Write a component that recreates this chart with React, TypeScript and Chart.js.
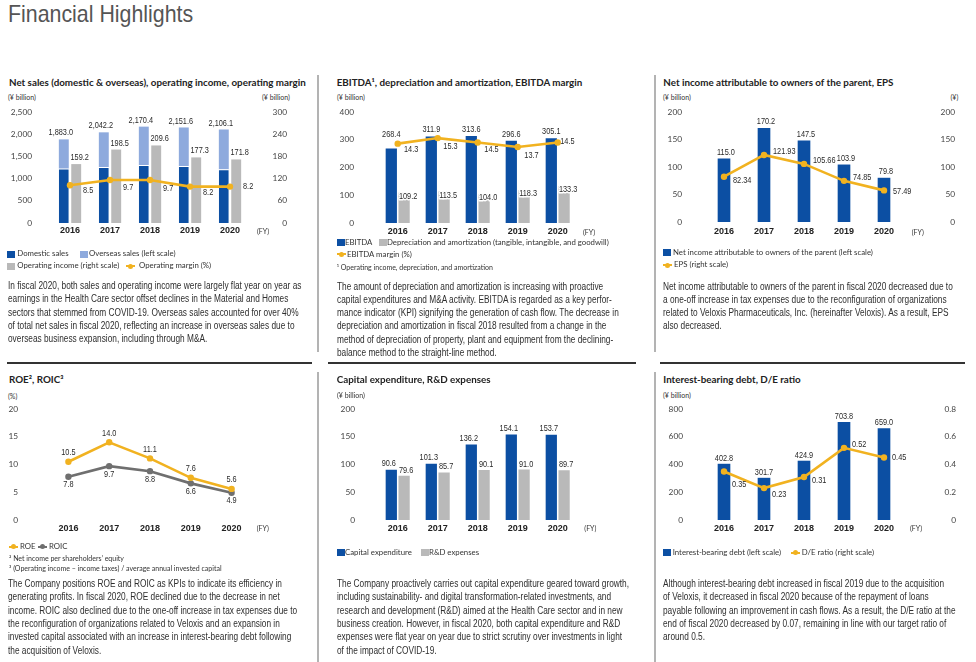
import React, { useEffect, useRef } from 'react';
import { Chart, registerables } from 'chart.js';

Chart.register(...registerables);

// ---------------- data ----------------
const years = ['2016', '2017', '2018', '2019', '2020'];

const netSalesTotal = [1883.0, 2042.2, 2170.4, 2151.6, 2106.1];
const domesticSales = [1225, 1261, 1306, 1284, 1209];
const operatingIncome = [159.2, 198.5, 209.6, 177.3, 171.8];
const operatingMargin = [8.5, 9.7, 9.7, 8.2, 8.2];

const ebitda = [268.4, 311.9, 313.6, 296.6, 305.1];
const depreciation = [109.2, 113.5, 104.0, 118.3, 133.3];
const ebitdaMargin = [14.3, 15.3, 14.5, 13.7, 14.5];

const netIncome = [115.0, 170.2, 147.5, 103.9, 79.8];
const eps = [82.34, 121.93, 105.66, 74.85, 57.49];

const roe = [10.5, 14.0, 11.1, 7.6, 5.6];
const roic = [7.8, 9.7, 8.8, 6.6, 4.9];

const capex = [90.6, 101.3, 136.2, 154.1, 153.7];
const rnd = [79.6, 85.7, 90.1, 91.0, 89.7];

const debt = [402.8, 301.7, 424.9, 703.8, 659.0];
const deRatio = [0.35, 0.23, 0.31, 0.52, 0.45];

// overseas = total - domestic (both)
const overseasSales = netSalesTotal.map((t, i) => Math.round((t - domesticSales[i]) * 10) / 10);

// ---------------- style ----------------
const SANS = 'Lato, "Open Sans", sans-serif';
const LIB = '"Liberation Sans", Arial, sans-serif';
const BLUE = '#0c4fa3';
const LIGHT = '#8eaadd';
const GRAY = '#b9b9b9';
const ORANGE = '#f1b220';
const DGRAY = '#6f6f6f';

const f1 = (v: number) => v.toFixed(1);
const f2 = (v: number) => v.toFixed(2);
const fComma = (v: number) => v.toLocaleString('en-US', { minimumFractionDigits: 1, maximumFractionDigits: 1 });
const intComma = (v: number) => v.toLocaleString('en-US');

const valueLabels = {
  id: 'valueLabels',
  afterDatasetsDraw(chart: any) {
    const { ctx } = chart;
    chart.data.datasets.forEach((ds: any, i: number) => {
      const cfg = ds.valueLabel;
      if (!cfg) return;
      const meta = chart.getDatasetMeta(i);
      meta.data.forEach((el: any, j: number) => {
        const raw = cfg.values ? cfg.values[j] : ds.data[j];
        const text = cfg.format(raw);
        const dx = Array.isArray(cfg.dx) ? cfg.dx[j] : cfg.dx || 0;
        const dy = Array.isArray(cfg.dy) ? cfg.dy[j] : cfg.dy || 0;
        let y = el.y + dy;
        if (cfg.avoid !== undefined) {
          const o = chart.getDatasetMeta(cfg.avoid).data[j];
          y = Math.min(y, o.y + cfg.avoidDy);
        }
        const x = el.x + dx;
        ctx.save();
        ctx.translate(x, y);
        ctx.scale(0.8, 1);
        ctx.font = `9.2px ${LIB}`;
        ctx.textAlign = cfg.align || 'center';
        ctx.textBaseline = 'middle';
        if (cfg.halo) {
          ctx.lineWidth = 3;
          ctx.strokeStyle = '#fff';
          ctx.lineJoin = 'round';
          ctx.strokeText(text, 0, 0);
        }
        ctx.fillStyle = '#2a2a2a';
        ctx.fillText(text, 0, 0);
        ctx.restore();
      });
    });
  },
};

const noGrid = { display: false, drawTicks: false };
const noBorder = { display: false };

function xAxis(h: number, pad: number, stacked = false) {
  return {
    type: 'category',
    offset: true,
    stacked,
    grid: noGrid,
    border: noBorder,
    ticks: {
      padding: pad,
      autoSkip: false,
      maxRotation: 0,
      color: '#222',
      font: { family: LIB, size: 9, weight: 'bold' },
    },
    afterFit: (s: any) => {
      s.height = h;
      s.paddingLeft = 0;
      s.paddingRight = 0;
    },
  };
}

function yAxis(pos: string, w: number, pad: number, max: number, step: number, fmt: any, stacked = false) {
  return {
    position: pos,
    min: 0,
    max,
    stacked,
    grid: noGrid,
    border: noBorder,
    ticks: {
      stepSize: step,
      padding: pad,
      crossAlign: pos === 'right' ? 'far' : 'near',
      color: '#444',
      font: { family: SANS, size: 8.3 },
      callback: fmt,
    },
    afterFit: (s: any) => {
      s.width = w;
      s.paddingTop = 0;
      s.paddingBottom = 0;
    },
  };
}

function hidden(max: number) {
  return { display: false, min: 0, max };
}

function lineDs(label: string, data: number[], color: string, axis: string, valueLabel: any) {
  return {
    type: 'line',
    label,
    data,
    yAxisID: axis,
    borderColor: color,
    backgroundColor: color,
    borderWidth: 2.6,
    pointRadius: 3.2,
    pointBorderWidth: 0,
    pointBackgroundColor: color,
    tension: 0,
    order: 0,
    valueLabel,
  };
}

function baseOptions(padTop: number, padRight: number, scales: any, bar?: any) {
  return {
    animation: false,
    responsive: false,
    devicePixelRatio: 1,
    layout: { autoPadding: false, padding: { top: padTop, right: padRight, left: 0, bottom: 0 } },
    plugins: { legend: { display: false }, tooltip: { enabled: false } },
    datasets: bar ? { bar } : {},
    scales,
  };
}

// ---------------- chart configs ----------------
const cfgSales = () => ({
  type: 'bar',
  data: {
    labels: years,
    datasets: [
      {
        label: 'Domestic sales',
        data: domesticSales,
        backgroundColor: BLUE,
        borderColor: '#ffffff',
        borderWidth: { top: 1, left: 0, right: 0, bottom: 0 },
        borderSkipped: false,
        stack: 'sales',
        yAxisID: 'y',
        order: 1,
      },
      {
        label: 'Overseas sales (left scale)',
        data: overseasSales,
        backgroundColor: LIGHT,
        stack: 'sales',
        yAxisID: 'y',
        order: 1,
        valueLabel: { values: netSalesTotal, format: fComma, dx: -3, dy: -6.5 },
      },
      {
        label: 'Operating income (right scale)',
        data: operatingIncome,
        backgroundColor: GRAY,
        stack: 'oi',
        yAxisID: 'y1',
        order: 1,
        valueLabel: { format: f1, dx: 3.5, dy: -6.5 },
      },
      lineDs('Operating margin (%)', operatingMargin, ORANGE, 'y2', {
        format: f1,
        align: 'left',
        dx: 13,
        dy: [5, 8, 8.7, 5.4, -0.3],
      }),
    ],
  },
  options: baseOptions(
    12,
    33,
    {
      x: xAxis(17, 2.6, true),
      y: yAxis('left', 50, 18, 2500, 500, intComma, true),
      y1: yAxis('right', 37, 3, 300, 60, intComma, true),
      y2: hidden(25),
    },
    { categoryPercentage: 0.62, barPercentage: 0.8 }
  ),
  plugins: [valueLabels],
});

const cfgEbitda = () => ({
  type: 'bar',
  data: {
    labels: years,
    datasets: [
      {
        label: 'EBITDA',
        data: ebitda,
        backgroundColor: BLUE,
        order: 1,
        valueLabel: { format: f1, dx: 0, dy: -6.5, avoid: 2, avoidDy: -9 },
      },
      {
        label: 'Depreciation and amortization',
        data: depreciation,
        backgroundColor: GRAY,
        order: 1,
        valueLabel: { format: f1, dx: 4, dy: 3.5, halo: true },
      },
      lineDs('EBITDA margin (%)', ebitdaMargin, ORANGE, 'y2', {
        format: f1,
        align: 'left',
        dx: [6.3, 5.6, 6.6, 6.6, 2.5],
        dy: [6, 8.3, 7.4, 8, -1],
      }),
    ],
  },
  options: baseOptions(
    12,
    67.3,
    {
      x: xAxis(17, 3.3),
      y: yAxis('left', 52.7, 23.7, 400, 100, intComma),
      y2: hidden(20),
    },
    { categoryPercentage: 0.64, barPercentage: 0.88 }
  ),
  plugins: [valueLabels],
});

const cfgNetIncome = () => ({
  type: 'bar',
  data: {
    labels: years,
    datasets: [
      {
        label: 'Net income attributable to owners of the parent (left scale)',
        data: netIncome,
        backgroundColor: BLUE,
        barThickness: 12,
        yAxisID: 'y',
        order: 1,
        valueLabel: { format: f1, dx: 2, dy: -6.5 },
      },
      lineDs('EPS (right scale)', eps, ORANGE, 'y1', {
        format: f2,
        align: 'left',
        dx: 9,
        dy: [3.6, -3.6, -3.2, -3.8, 0.6],
      }),
    ],
  },
  options: baseOptions(12, 21, {
    x: xAxis(18, 4.3),
    y: yAxis('left', 54, 22, 200, 50, intComma),
    y1: yAxis('right', 51, 3, 200, 50, intComma),
  }),
  plugins: [valueLabels],
});

const cfgRoe = () => ({
  type: 'line',
  data: {
    labels: years,
    datasets: [
      lineDs('ROE', roe, ORANGE, 'y', { format: f1, dx: 0, dy: -9 }),
      lineDs('ROIC', roic, DGRAY, 'y', { format: f1, dx: 0, dy: 8 }),
    ],
  },
  options: baseOptions(11, 68, {
    x: xAxis(18, 2.9),
    y: yAxis('left', 48, 30, 20, 5, intComma),
  }),
  plugins: [valueLabels],
});

const cfgCapex = () => ({
  type: 'bar',
  data: {
    labels: years,
    datasets: [
      {
        label: 'Capital expenditure',
        data: capex,
        backgroundColor: BLUE,
        valueLabel: { format: f1, dx: -2.5, dy: -6 },
      },
      {
        label: 'R&D expenses',
        data: rnd,
        backgroundColor: GRAY,
        valueLabel: { format: f1, dx: 2, dy: -5.5 },
      },
    ],
  },
  options: baseOptions(
    11,
    67.3,
    {
      x: xAxis(18, 2.9),
      y: yAxis('left', 52.7, 22.7, 200, 50, intComma),
    },
    { categoryPercentage: 0.64, barPercentage: 0.88 }
  ),
  plugins: [valueLabels],
});

const cfgDebt = () => ({
  type: 'bar',
  data: {
    labels: years,
    datasets: [
      {
        label: 'Interest-bearing debt (left scale)',
        data: debt,
        backgroundColor: BLUE,
        barThickness: 12,
        yAxisID: 'y',
        order: 1,
        valueLabel: { format: f1, dx: 0, dy: -6 },
      },
      lineDs('D/E ratio (right scale)', deRatio, ORANGE, 'y1', {
        format: f2,
        align: 'left',
        dx: 8,
        dy: [13, 6, 3, -3, 0],
      }),
    ],
  },
  options: baseOptions(11, 20, {
    x: xAxis(18, 2.9),
    y: yAxis('left', 54, 21, 800, 200, intComma),
    y1: yAxis('right', 52, 3, 0.8, 0.2, (v: number) => (v === 0 ? '0' : Number(v).toFixed(1))),
  }),
  plugins: [valueLabels],
});

// ---------------- components ----------------
function ChartCanvas({ x, y, w, h, make }: any) {
  const ref = useRef<HTMLCanvasElement | null>(null);
  useEffect(() => {
    if (!ref.current) return;
    const chart = new Chart(ref.current, make() as any);
    return () => chart.destroy();
  }, []);
  return <canvas ref={ref} width={w} height={h} style={{ position: 'absolute', left: x, top: y, width: w, height: h }} />;
}

function Txt({ x, y, s, w = 400, f = SANS, c = '#333', k, children }: any) {
  return (
    <div
      style={{
        position: 'absolute',
        left: x,
        top: y - s * 0.6,
        fontSize: s,
        lineHeight: `${s * 1.2}px`,
        fontWeight: w,
        fontFamily: f,
        color: c,
        whiteSpace: 'nowrap',
        transform: k ? `scaleX(${k})` : undefined,
        transformOrigin: '0 50%',
      }}
    >
      {children}
    </div>
  );
}

function Sq({ x, y, c }: any) {
  return <div style={{ position: 'absolute', left: x, top: y - 3.5, width: 8, height: 7, background: c }} />;
}

function LineMark({ x, y, c }: any) {
  return (
    <div style={{ position: 'absolute', left: x, top: y - 3, width: 9, height: 6 }}>
      <div style={{ position: 'absolute', left: 0, top: 2, width: 9, height: 2, background: c }} />
      <div style={{ position: 'absolute', left: 2, top: 0.5, width: 5, height: 5, borderRadius: 3, background: c }} />
    </div>
  );
}

function Para({ x, y, lines }: any) {
  return (
    <>
      {lines.map((l: string, i: number) => (
        <Txt key={i} x={x} y={y + i * 13.3} s={10} f={LIB} c="#2e2e2e" k={0.83}>
          {l}
        </Txt>
      ))}
    </>
  );
}

const TITLE_S = 9.8;
const LEG_S = 7.8;
const UNIT_S = 7;

const p1 = [
  'In fiscal 2020, both sales and operating income were largely flat year on year as',
  'earnings in the Health Care sector offset declines in the Material and Homes',
  'sectors that stemmed from COVID-19. Overseas sales accounted for over 40%',
  'of total net sales in fiscal 2020, reflecting an increase in overseas sales due to',
  'overseas business expansion, including through M&A.',
];
const p2 = [
  'The amount of depreciation and amortization is increasing with proactive',
  'capital expenditures and M&A activity. EBITDA is regarded as a key perfor-',
  'mance indicator (KPI) signifying the generation of cash flow. The decrease in',
  'depreciation and amortization in fiscal 2018 resulted from a change in the',
  'method of depreciation of property, plant and equipment from the declining-',
  'balance method to the straight-line method.',
];
const p3 = [
  'Net income attributable to owners of the parent in fiscal 2020 decreased due to',
  'a one-off increase in tax expenses due to the reconfiguration of organizations',
  'related to Veloxis Pharmaceuticals, Inc. (hereinafter Veloxis). As a result, EPS',
  'also decreased.',
];
const p4 = [
  'The Company positions ROE and ROIC as KPIs to indicate its efficiency in',
  'generating profits. In fiscal 2020, ROE declined due to the decrease in net',
  'income. ROIC also declined due to the one-off increase in tax expenses due to',
  'the reconfiguration of organizations related to Veloxis and an expansion in',
  'invested capital associated with an increase in interest-bearing debt following',
  'the acquisition of Veloxis.',
];
const p5 = [
  'The Company proactively carries out capital expenditure geared toward growth,',
  'including sustainability- and digital transformation-related investments, and',
  'research and development (R&D) aimed at the Health Care sector and in new',
  'business creation. However, in fiscal 2020, both capital expenditure and R&D',
  'expenses were flat year on year due to strict scrutiny over investments in light',
  'of the impact of COVID-19.',
];
const p6 = [
  'Although interest-bearing debt increased in fiscal 2019 due to the acquisition',
  'of Veloxis, it decreased in fiscal 2020 because of the repayment of loans',
  'payable following an improvement in cash flows. As a result, the D/E ratio at the',
  'end of fiscal 2020 decreased by 0.07, remaining in line with our target ratio of',
  'around 0.5.',
];

export default function App() {
  return (
    <div
      style={{
        position: 'fixed',
        left: 0,
        top: 0,
        width: 976,
        height: 662,
        background: '#fff',
        overflow: 'hidden',
        fontFamily: SANS,
      }}
    >
      <Txt x={8} y={14.5} s={24} f={LIB} c="#555" k={0.89}>
        Financial Highlights
      </Txt>

      {/* separators */}
      <div style={{ position: 'absolute', left: 317, top: 75, width: 2, height: 277, background: '#b3b3b3' }} />
      <div style={{ position: 'absolute', left: 654, top: 75, width: 2, height: 277, background: '#b3b3b3' }} />
      <div style={{ position: 'absolute', left: 317, top: 372, width: 2, height: 290, background: '#b3b3b3' }} />
      <div style={{ position: 'absolute', left: 654, top: 372, width: 2, height: 290, background: '#b3b3b3' }} />
      <div style={{ position: 'absolute', left: 7, top: 362, width: 305, height: 1.5, background: '#333' }} />
      <div style={{ position: 'absolute', left: 328, top: 362, width: 308, height: 1.5, background: '#333' }} />
      <div style={{ position: 'absolute', left: 660, top: 362, width: 305, height: 1.5, background: '#333' }} />

      {/* ---------- Chart 1 ---------- */}
      <Txt x={9} y={82.7} s={TITLE_S} w={700} c="#222">
        Net sales (domestic &amp; overseas), operating income, operating margin
      </Txt>
      <Txt x={8} y={96.7} s={UNIT_S}>(¥ billion)</Txt>
      <Txt x={262} y={96.7} s={UNIT_S}>(¥ billion)</Txt>
      <ChartCanvas x={0} y={100} w={320} h={140} make={cfgSales} />
      <Txt x={257} y={231} s={7}>(FY)</Txt>
      <Sq x={7} y={254} c={BLUE} />
      <Txt x={17.3} y={254} s={LEG_S}>Domestic sales</Txt>
      <Sq x={80} y={254} c={LIGHT} />
      <Txt x={89} y={254} s={LEG_S}>Overseas sales (left scale)</Txt>
      <Sq x={7} y={266} c={GRAY} />
      <Txt x={17.3} y={266} s={LEG_S}>Operating income (right scale)</Txt>
      <LineMark x={126} y={266} c={ORANGE} />
      <Txt x={139} y={266} s={LEG_S}>Operating margin (%)</Txt>
      <Para x={8} y={286} lines={p1} />

      {/* ---------- Chart 2 ---------- */}
      <Txt x={336.7} y={82.7} s={TITLE_S} w={700} c="#222">
        EBITDA¹, depreciation and amortization, EBITDA margin
      </Txt>
      <Txt x={337} y={96.7} s={UNIT_S}>(¥ billion)</Txt>
      <ChartCanvas x={325} y={100} w={320} h={140} make={cfgEbitda} />
      <Txt x={583} y={231.7} s={7}>(FY)</Txt>
      <Sq x={336.7} y={242.7} c={BLUE} />
      <Txt x={345} y={242.7} s={LEG_S}>EBITDA</Txt>
      <Sq x={379} y={242.7} c={GRAY} />
      <Txt x={387} y={242.7} s={LEG_S}>Depreciation and amortization (tangible, intangible, and goodwill)</Txt>
      <LineMark x={336.7} y={254.3} c={ORANGE} />
      <Txt x={347} y={254.3} s={LEG_S}>EBITDA margin (%)</Txt>
      <Txt x={336.7} y={266.7} s={UNIT_S}>¹ Operating income, depreciation, and amortization</Txt>
      <Para x={337} y={286.5} lines={p2} />

      {/* ---------- Chart 3 ---------- */}
      <Txt x={663.3} y={82.7} s={TITLE_S} w={700} c="#222">
        Net income attributable to owners of the parent, EPS
      </Txt>
      <Txt x={663} y={96.7} s={UNIT_S}>(¥ billion)</Txt>
      <Txt x={950.5} y={96.7} s={UNIT_S}>(¥)</Txt>
      <ChartCanvas x={650} y={100} w={326} h={140} make={cfgNetIncome} />
      <Txt x={911.7} y={231.7} s={7}>(FY)</Txt>
      <Sq x={663} y={252.7} c={BLUE} />
      <Txt x={673} y={252.7} s={LEG_S}>Net income attributable to owners of the parent (left scale)</Txt>
      <LineMark x={663} y={265} c={ORANGE} />
      <Txt x={674} y={265} s={LEG_S}>EPS (right scale)</Txt>
      <Para x={663} y={286.5} lines={p3} />

      {/* ---------- Chart 4 ---------- */}
      <Txt x={9} y={380} s={TITLE_S} w={700} c="#222">
        ROE², ROIC³
      </Txt>
      <Txt x={8} y={396} s={UNIT_S}>(%)</Txt>
      <ChartCanvas x={0} y={398} w={320} h={140} make={cfgRoe} />
      <Txt x={256.7} y={528.3} s={7}>(FY)</Txt>
      <LineMark x={9} y={546.7} c={ORANGE} />
      <Txt x={20} y={546.7} s={LEG_S}>ROE</Txt>
      <LineMark x={38} y={546.7} c={DGRAY} />
      <Txt x={49} y={546.7} s={LEG_S}>ROIC</Txt>
      <Txt x={9} y={557.7} s={UNIT_S}>² Net income per shareholders’ equity</Txt>
      <Txt x={9} y={568.3} s={UNIT_S}>³ (Operating income – income taxes) / average annual invested capital</Txt>
      <Para x={8} y={584} lines={p4} />

      {/* ---------- Chart 5 ---------- */}
      <Txt x={336.7} y={380} s={TITLE_S} w={700} c="#222">
        Capital expenditure, R&amp;D expenses
      </Txt>
      <Txt x={337} y={395} s={UNIT_S}>(¥ billion)</Txt>
      <ChartCanvas x={325} y={398} w={320} h={140} make={cfgCapex} />
      <Txt x={584.3} y={528.3} s={7}>(FY)</Txt>
      <Sq x={336.7} y={552.7} c={BLUE} />
      <Txt x={345} y={552.7} s={LEG_S}>Capital expenditure</Txt>
      <Sq x={421} y={552.7} c={GRAY} />
      <Txt x={429} y={552.7} s={LEG_S}>R&amp;D expenses</Txt>
      <Para x={337} y={584} lines={p5} />

      {/* ---------- Chart 6 ---------- */}
      <Txt x={663.3} y={380} s={TITLE_S} w={700} c="#222">
        Interest-bearing debt, D/E ratio
      </Txt>
      <Txt x={663} y={395} s={UNIT_S}>(¥ billion)</Txt>
      <ChartCanvas x={650} y={398} w={326} h={140} make={cfgDebt} />
      <Txt x={910} y={528.3} s={7}>(FY)</Txt>
      <Sq x={663} y={552.7} c={BLUE} />
      <Txt x={672.7} y={552.7} s={LEG_S}>Interest-bearing debt (left scale)</Txt>
      <LineMark x={791} y={552.7} c={ORANGE} />
      <Txt x={801.7} y={552.7} s={LEG_S}>D/E ratio (right scale)</Txt>
      <Para x={663} y={584} lines={p6} />
    </div>
  );
}
